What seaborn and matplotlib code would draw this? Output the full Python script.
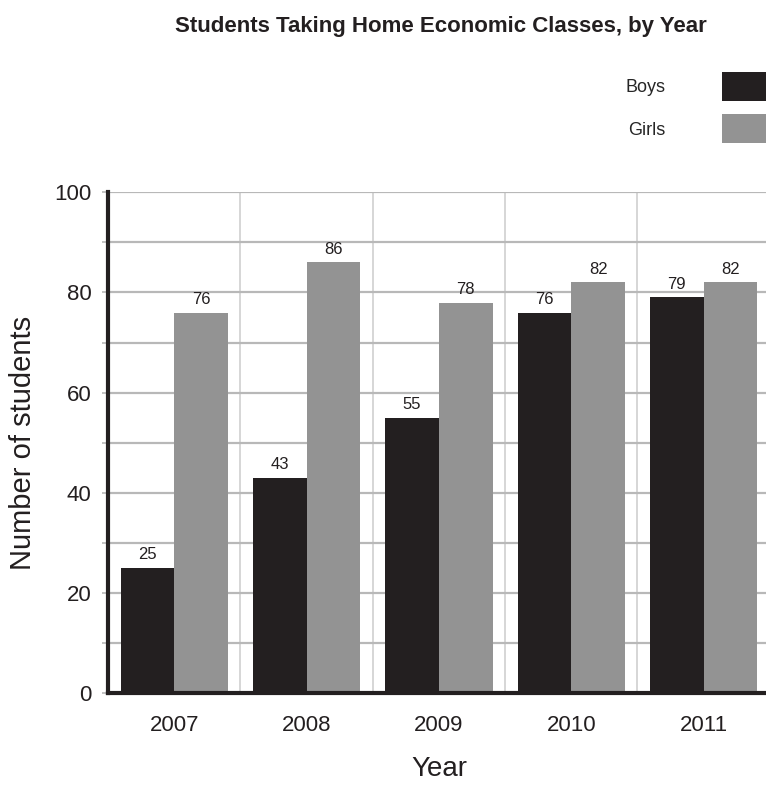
import matplotlib
matplotlib.use("Agg")
import matplotlib.pyplot as plt
import matplotlib.patches as mpatches
import seaborn as sns
import pandas as pd
import numpy as np

years = ["2007", "2008", "2009", "2010", "2011"]
boys = [25, 43, 55, 76, 79]
girls = [76, 86, 78, 82, 82]
series = ["Boys", "Girls"]
colors = {"Boys": "#231f20", "Girls": "#939393"}

sns.set_theme(style="white")
plt.rcParams["font.family"] = ["Liberation Sans", "DejaVu Sans"]

df = pd.DataFrame({
    "Year": years * 2,
    "Students": boys + girls,
    "Group": ["Boys"] * len(years) + ["Girls"] * len(years),
})

fig = plt.figure(figsize=(7.66, 7.85), dpi=100)
ax = fig.add_axes([0.141, 0.117, 0.864, 0.638])

sns.barplot(data=df, x="Year", y="Students", hue="Group", palette=colors,
            width=0.81, ax=ax, legend=False, saturation=1, zorder=3,
            linewidth=0, edgecolor="none")

for cont in ax.containers:
    ax.bar_label(cont, fmt="%d", padding=4, fontsize=12, color="#231f20")

ax.set_ylim(0, 100)
ax.set_xlim(-0.5, len(years) - 0.5)
ax.set_yticks(range(0, 101, 20))
ax.set_yticks(range(10, 100, 20), minor=True)
ax.set_xticks(np.arange(0.5, len(years) - 0.5, 1), minor=True)
ax.grid(True, which="both", axis="y", color="#b8b8b8", linewidth=1.6, zorder=0)
ax.grid(True, which="minor", axis="x", color="#d0d0d0", linewidth=1.2, zorder=0)
ax.set_axisbelow(True)

for s in ["top", "right"]:
    ax.spines[s].set_visible(False)
for s in ["left", "bottom"]:
    ax.spines[s].set_color("#231f20")
    ax.spines[s].set_linewidth(3)
    ax.spines[s].set_zorder(5)

ax.tick_params(axis="y", which="both", left=True, length=4, width=1.2, color="#b8b8b8",
               labelsize=16, pad=8, labelcolor="#231f20")
ax.tick_params(axis="x", which="both", bottom=False, labelsize=16, pad=10, labelcolor="#231f20")
ax.set_ylabel("Number of students", fontsize=21, color="#231f20", labelpad=12)
ax.set_xlabel("Year", fontsize=20, color="#231f20", labelpad=14)

fig.text(0.575, 0.966, "Students Taking Home Economic Classes, by Year",
         ha="center", va="center", fontsize=16, fontweight="bold", color="#231f20")

# legend: labels to the left of the swatches at top right
handles = [mpatches.Patch(facecolor=colors[s], edgecolor="none") for s in series]
fig.legend(handles, series, loc="upper right", bbox_to_anchor=(1.0, 0.908),
           frameon=False, fontsize=13, markerfirst=False, handlelength=2.45,
           handleheight=2.1, handletextpad=3.1, labelspacing=0.72, borderaxespad=0,
           borderpad=0)

fig.savefig("out.png", dpi=100)
